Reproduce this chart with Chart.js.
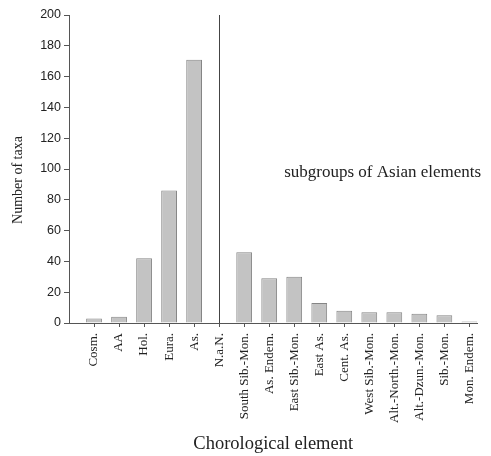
<!DOCTYPE html>
<html>
<head>
<meta charset="utf-8">
<script src="https://cdn.jsdelivr.net/npm/chart.js@4.4.1/dist/chart.umd.min.js"></script>
<style>
  html, body { margin: 0; padding: 0; background: #fff; }
  #wrap { width: 491px; height: 456px; }
</style>
</head>
<body>
<div id="wrap"><canvas id="grafico" width="491" height="456"></canvas></div>
<script>
const categories = ["Cosm.", "AA", "Hol.", "Eura.", "As.", "N.a.N.",
  "South Sib.-Mon.", "As. Endem.", "East Sib.-Mon.", "East As.", "Cent. As.",
  "West Sib.-Mon.", "Alt.-North.-Mon.", "Alt.-Dzun.-Mon.", "Sib.-Mon.", "Mon. Endem."];
const taxa = [3, 4, 42, 86, 171, null, 46, 29, 30, 13, 8, 7, 7, 6, 5, 1];
const yTicks = [0, 20, 40, 60, 80, 100, 120, 140, 160, 180, 200];
const noteText = "subgroups of Asian elements";
const yTitle = "Number of taxa";

const canvas = document.getElementById("grafico");
const axisColor = "#555";

// separator line at N.a.N., the note text and the y title
const extras = {
  id: "extras",
  afterDatasetsDraw(chart) {
    const ctx = chart.ctx;
    const x = chart.scales.x;
    const y = chart.scales.y;
    const px = Math.round(x.getPixelForValue(categories.indexOf("N.a.N.") + 1)) + 0.5;
    ctx.save();
    ctx.strokeStyle = "#444";
    ctx.lineWidth = 1;
    ctx.beginPath();
    ctx.moveTo(px, y.getPixelForValue(200));
    ctx.lineTo(px, y.getPixelForValue(0));
    ctx.stroke();
    ctx.fillStyle = "#222";
    ctx.font = "17px 'Liberation Serif'";
    ctx.textBaseline = "middle";
    ctx.fillText(noteText, x.getPixelForValue(8.6), y.getPixelForValue(98));

    ctx.translate(18, (y.top + y.bottom) / 2 + 11);
    ctx.rotate(-Math.PI / 2);
    ctx.textAlign = "center";
    ctx.font = "14px 'Liberation Serif'";
    ctx.fillText(yTitle, 0, 0);
    ctx.restore();
  }
};

new Chart(canvas, {
  type: "bar",
  data: {
    datasets: [{
      data: taxa.map((v, i) => ({ x: i + 1, y: v })),
      backgroundColor: "#c3c3c3",
      borderColor: "#858585",
      borderWidth: 1,
      borderSkipped: "start",
      barPercentage: 0.63,
      categoryPercentage: 1
    }]
  },
  options: {
    responsive: false,
    animation: false,
    layout: { autoPadding: false, padding: { top: 15, right: 0, left: 0, bottom: 0 } },
    plugins: { legend: { display: false }, tooltip: { enabled: false } },
    scales: {
      x: {
        type: "linear",
        min: 0,
        max: 16.32,
        offset: false,
        afterBuildTicks: (axis) => {
          axis.ticks = categories.map((c, i) => ({ value: i + 1 }));
        },
        afterFit: (scale) => { scale.height = 133; },
        ticks: {
          autoSkip: false,
          minRotation: 90,
          maxRotation: 90,
          padding: 6,
          color: "#222",
          font: { family: "'Liberation Serif'", size: 13 },
          callback: (v) => categories[v - 1] || ""
        },
        grid: { drawOnChartArea: false, offset: false, tickLength: 4, color: axisColor },
        border: { color: axisColor, width: 1 },
        title: {
          display: true,
          text: "Chorological element",
          color: "#222",
          font: { family: "'Liberation Serif'", size: 18.5 },
          padding: { top: 4, bottom: 1 }
        }
      },
      y: {
        min: 0,
        max: 200,
        afterBuildTicks: (axis) => { axis.ticks = yTicks.map(v => ({ value: v })); },
        afterFit: (scale) => { scale.width = 69; },
        ticks: {
          padding: 3,
          color: "#222",
          font: { family: "'Liberation Sans'", size: 12.5 }
        },
        grid: { drawOnChartArea: false, tickLength: 5, color: axisColor },
        border: { color: axisColor, width: 1 }
      }
    }
  },
  plugins: [extras]
});
</script>
</body>
</html>
